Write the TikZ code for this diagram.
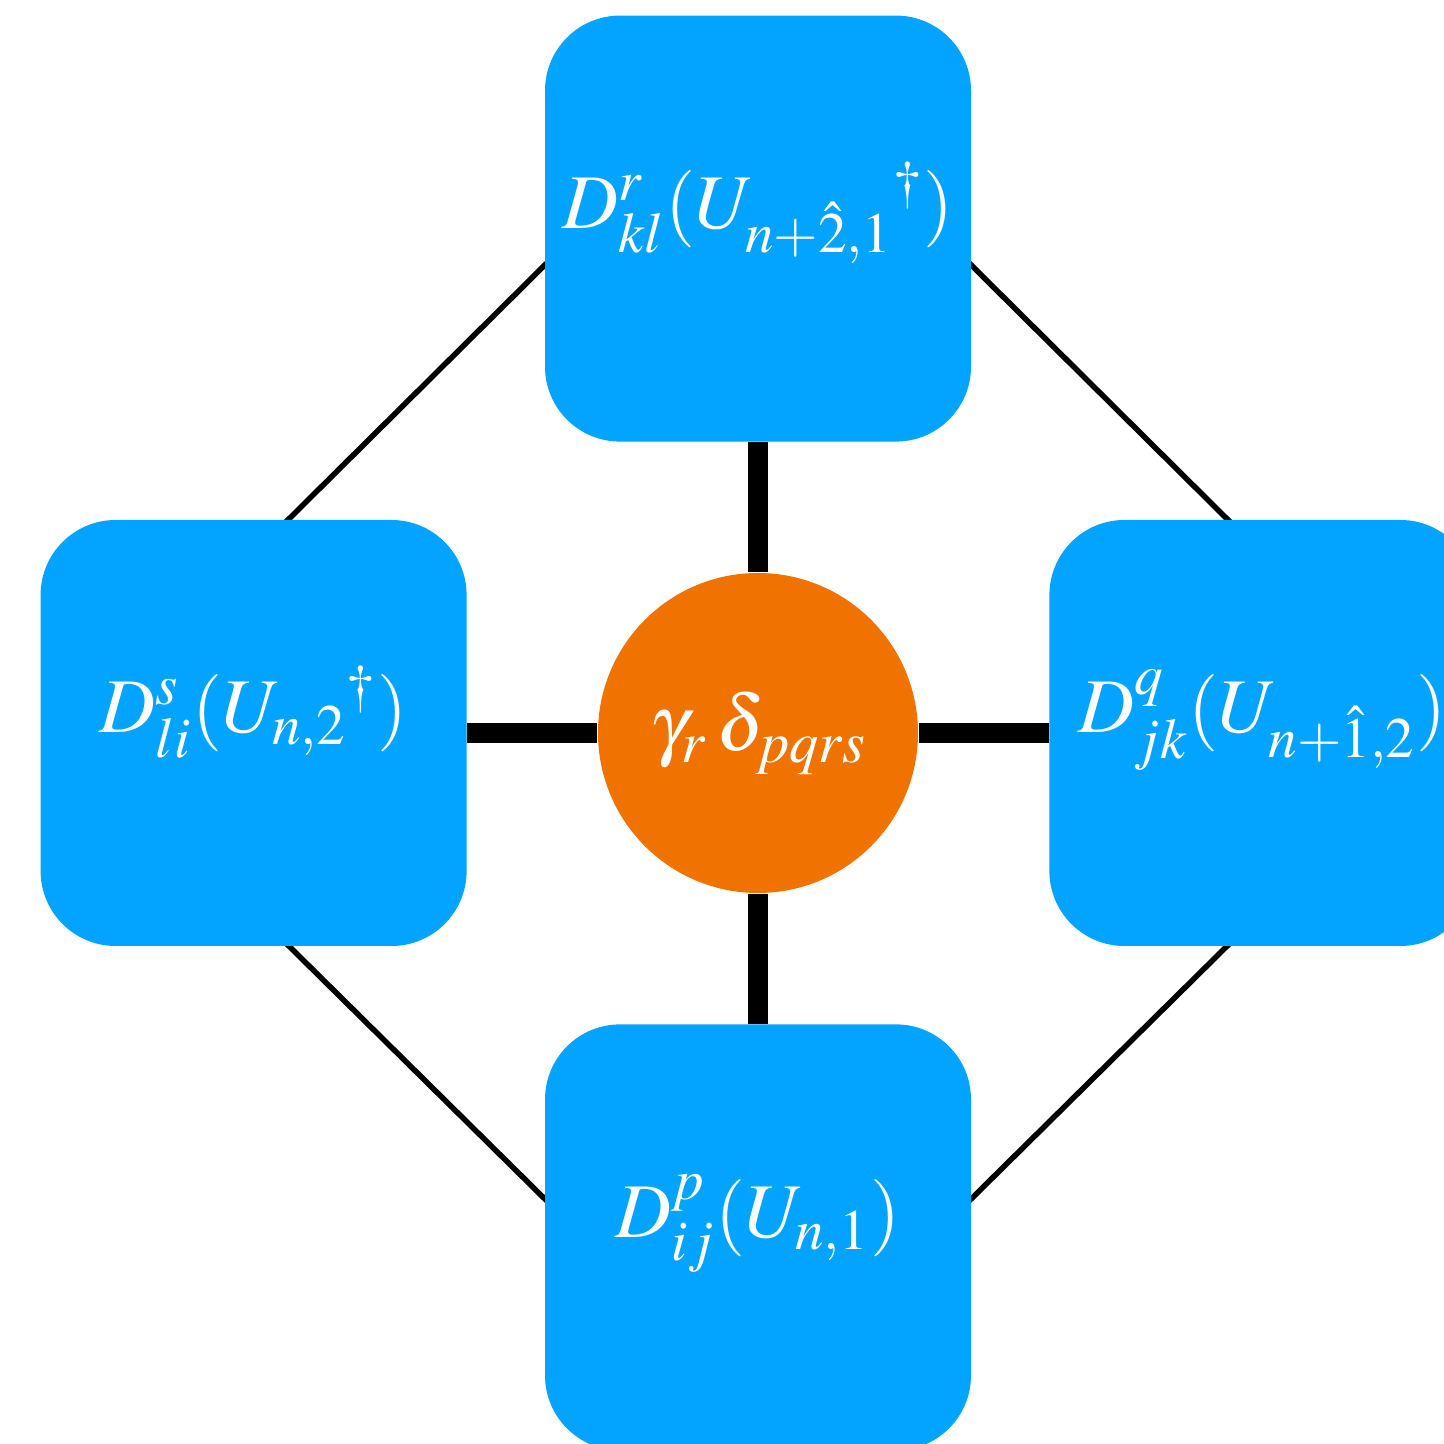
\documentclass[tikz,border=0pt]{standalone}
\usepackage{mathptmx}
\usetikzlibrary{positioning,backgrounds}
\definecolor{linkblue}{RGB}{2,164,255}
\definecolor{siteorange}{RGB}{240,114,0}
\begin{document}
\begin{tikzpicture}[
    link/.style={rectangle, rounded corners=0.75cm, fill=linkblue, text=white,
      minimum width=4.26cm, minimum height=4.26cm, inner sep=0pt,
      text height=0.6cm, text depth=0.6cm, font=\fontsize{22}{27}\selectfont},
    site/.style={circle, fill=siteorange, text=white, minimum size=3.2cm,
      inner sep=0pt, font=\fontsize{22.5}{27}\selectfont},
    leg/.style={line width=0.2cm},
    plaq/.style={line width=0.055cm, shorten <=-3pt, shorten >=-3pt}]
  \useasboundingbox (-7.58,-7.11) rectangle (6.86,7.33);
  \node[site] (core) at (0,0) {$\gamma_r\,\delta_{pqrs}$};
  \node[link, above=1.3cm of core] (up) {$D^{r}_{kl}({U_{n+\hat{2},1}}^{\dagger})$};
  \node[link, left=1.3cm of core] (lt) {$D^{s}_{li}({U_{n,2}}^{\dagger})$};
  \node[link, right=1.3cm of core] (rt) {$D^{q}_{jk}(U_{n+\hat{1},2})$};
  \node[link, below=1.3cm of core] (dn) {$D^{p}_{ij}(U_{n,1})$};
  % legs to the centre
  \draw[leg] (up) -- (core);
  \draw[leg] (lt) -- (core);
  \draw[leg] (rt) -- (core);
  \draw[leg] (dn) -- (core);
  % plaquette
  \begin{scope}[on background layer]
    \draw[plaq] ([yshift=-0.37cm]up.west) -- ([xshift=0.35cm]lt.north);
    \draw[plaq] ([yshift=-0.37cm]up.east) -- ([xshift=-0.35cm]rt.north);
    \draw[plaq] ([xshift=0.36cm]lt.south) -- ([yshift=0.39cm]dn.west);
    \draw[plaq] ([xshift=-0.36cm]rt.south) -- ([yshift=0.39cm]dn.east);
  \end{scope}
\end{tikzpicture}
\end{document}
